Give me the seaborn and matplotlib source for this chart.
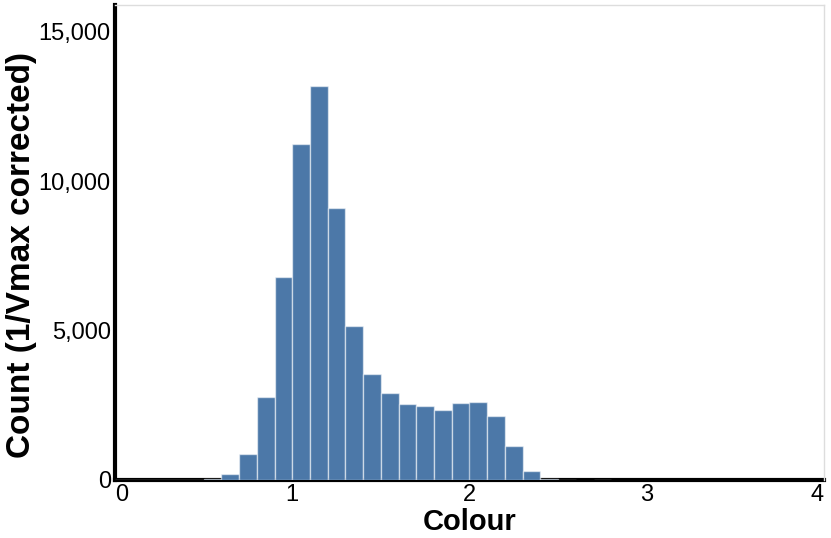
import numpy as np
import pandas as pd
import matplotlib
matplotlib.use("Agg")
import matplotlib.pyplot as plt
import seaborn as sns

# histogram of colour, bin width 0.1 from 0 to 4
bin_edges = [round(0.1 * i, 2) for i in range(41)]
bin_centres = [round(0.1 * i + 0.05, 3) for i in range(40)]
counts = [15, 15, 15, 15, 5, 50, 210, 870, 2790, 6800,
          11240, 13200, 9110, 5170, 3545, 2910, 2530, 2465, 2350, 2565,
          2610, 2140, 1135, 310, 40, 10, 0, 10, 0, 0,
          0, 0, 0, 0, 0, 0, 0, 0, 0, 0]
y_ticks = [0, 5000, 10000, 15000]
x_ticks = [0, 1, 2, 3, 4]

df = pd.DataFrame({"colour": bin_centres, "count": counts})

sns.set_theme(style="white")
plt.rcParams["font.family"] = ["Liberation Sans", "DejaVu Sans"]
plt.rcParams["text.color"] = "black"
plt.rcParams["axes.labelcolor"] = "black"

fig = plt.figure(figsize=(8.31, 5.38), dpi=100)
ax = fig.add_axes([115 / 831, 1 - 480 / 538, (824 - 115) / 831, (480 - 5) / 538])

sns.histplot(data=df, x="colour", weights="count", bins=bin_edges, ax=ax,
             color="#4c78a8", alpha=1, edgecolor=(1, 1, 1, 0.55), linewidth=1)
for p in ax.patches:
    if p.get_height() == 0:
        p.set_visible(False)

ax.set_xlim(0, 4)
ax.set_ylim(0, 15900)
ax.set_xticks(x_ticks)
ax.set_yticks(y_ticks)
ax.set_yticklabels([f"{v:,}" for v in y_ticks])
ax.tick_params(length=0, labelsize=17, pad=3, colors="black")
xl = ax.get_xticklabels()
xl[0].set_ha("left")
xl[-1].set_ha("right")

ax.set_xlabel("Colour", fontsize=21, fontweight="bold", labelpad=1.5)
ax.set_ylabel("Count (1/Vmax corrected)", fontsize=24, fontweight="bold")
ax.yaxis.set_label_coords(-0.110, 0.473)

for s in ["left", "bottom"]:
    ax.spines[s].set_color("black")
    ax.spines[s].set_linewidth(3)
    ax.spines[s].set_zorder(0.5)
for s in ["top", "right"]:
    ax.spines[s].set_color("#dddddd")
    ax.spines[s].set_linewidth(1)

fig.savefig("out.png", dpi=100)
